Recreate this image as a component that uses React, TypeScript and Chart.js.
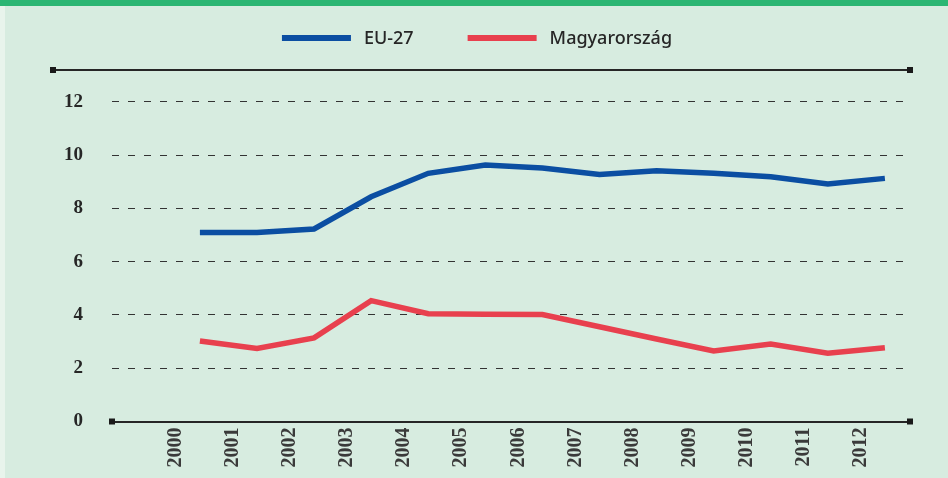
import React, { useEffect, useRef } from 'react';
import { Chart, registerables } from 'chart.js';

Chart.register(...registerables);

// ---- data ----
const years = [2000, 2001, 2002, 2003, 2004, 2005, 2006, 2007, 2008, 2009, 2010, 2011, 2012];
const seriesNames = ['EU-27', 'Magyarország'];
const euValues = [7.1, 7.1, 7.23, 8.44, 9.32, 9.63, 9.52, 9.28, 9.42, 9.32, 9.19, 8.92, 9.13];
const huValues = [3.02, 2.74, 3.14, 4.54, 4.05, 4.03, 4.02, 3.56, 3.1, 2.65, 2.91, 2.56, 2.77];
const yTickValues = [0, 2, 4, 6, 8, 10, 12];

// ---- styles ----
const BLUE = '#0b4ea2';
const RED = '#e8404e';
const PANEL = '#d7ece0';
const STRIP = '#e8f4ec';
const TOPBAR = '#2bb673';
const INK = '#262626';

const decorPlugin = {
  id: 'decor',
  beforeDraw(chart: any) {
    const { ctx, width, height } = chart;
    ctx.save();
    ctx.fillStyle = STRIP;
    ctx.fillRect(0, 0, width, height);
    ctx.fillStyle = PANEL;
    ctx.fillRect(5, 6, width - 5, height - 6);
    ctx.fillStyle = TOPBAR;
    ctx.fillRect(0, 0, width, 6);
    ctx.restore();
  },
  afterDraw(chart: any) {
    const { ctx, chartArea } = chart;
    const { left, right, top, bottom } = chartArea;
    ctx.save();
    // top frame line
    ctx.strokeStyle = INK;
    ctx.lineWidth = 2;
    ctx.beginPath();
    ctx.moveTo(left - 59, top);
    ctx.lineTo(right, top);
    ctx.stroke();
    // end squares
    ctx.fillStyle = '#1a1a1a';
    const sq = (x: number, y: number) => ctx.fillRect(x - 3, y - 3, 6, 6);
    sq(left - 59, top);
    sq(right, top);
    sq(left, bottom);
    sq(right, bottom);

    // legend
    const ds = chart.data.datasets;
    ctx.font = '500 18px "Noto Sans", "DejaVu Sans", sans-serif';
    ctx.textBaseline = 'middle';
    const sampleW = 69;
    const textGap = 13;
    const itemGap = 54;
    const widths = ds.map((d: any) => ctx.measureText(d.label).width);
    let total = 0;
    widths.forEach((w: number, i: number) => {
      total += sampleW + textGap + w + (i < widths.length - 1 ? itemGap : 0);
    });
    let x = 477 - total / 2;
    const ly = 38;
    ds.forEach((d: any, i: number) => {
      ctx.fillStyle = d.borderColor;
      ctx.fillRect(x, ly - 3, sampleW, 6);
      x += sampleW + textGap;
      ctx.fillStyle = INK;
      ctx.fillText(d.label, x, ly + 1);
      x += widths[i] + itemGap;
    });
    ctx.restore();
  },
};

export default function App() {
  const ref = useRef<HTMLCanvasElement | null>(null);

  useEffect(() => {
    if (!ref.current) return;
    const chart = new Chart(ref.current, {
      type: 'line',
      data: {
        datasets: [
          {
            label: seriesNames[0],
            data: years.map((y, i) => ({ x: y, y: euValues[i] })),
            borderColor: BLUE,
            backgroundColor: BLUE,
            borderWidth: 5.5,
            pointRadius: 0,
            tension: 0,
            fill: false,
          },
          {
            label: seriesNames[1],
            data: years.map((y, i) => ({ x: y, y: huValues[i] })),
            borderColor: RED,
            backgroundColor: RED,
            borderWidth: 5.5,
            pointRadius: 0,
            tension: 0,
            fill: false,
          },
        ],
      },
      options: {
        responsive: false,
        animation: false,
        layout: { padding: { top: 70, right: 38, bottom: 0, left: 0 } },
        plugins: {
          legend: { display: false },
          tooltip: { enabled: false },
        },
        scales: {
          x: {
            type: 'linear',
            min: 1998.46,
            max: 2012.44,
            afterBuildTicks: (scale: any) => {
              scale.ticks = years.map((v) => ({ value: v }));
            },
            afterFit: (scale: any) => {
              scale.height = 56.5;
            },
            grid: { display: false, drawTicks: false },
            border: { display: true, color: INK, width: 2 },
            ticks: {
              autoSkip: false,
              maxRotation: 90,
              minRotation: 90,
              labelOffset: -24,
              padding: 6,
              color: '#3a3a3a',
              font: { family: '"Liberation Serif", serif', size: 20, weight: 'bold' },
              callback: (v: any) => String(v),
            },
          },
          y: {
            type: 'linear',
            min: 0,
            max: 13.2,
            afterBuildTicks: (scale: any) => {
              scale.ticks = yTickValues.map((v) => ({ value: v }));
            },
            afterFit: (scale: any) => {
              scale.width = 112;
            },
            grid: { display: true, drawTicks: false, color: '#333333', lineWidth: 1 },
            border: { display: false, dash: [7, 9] },
            ticks: {
              padding: 29,
              color: INK,
              font: { family: '"Liberation Serif", serif', size: 19, weight: 'bold' },
              callback: (v: any) => String(v),
            },
          },
        },
      },
      plugins: [decorPlugin],
    } as any);
    return () => chart.destroy();
  }, []);

  return (
    <div style={{ position: 'absolute', left: 0, top: 0, width: 948, height: 478 }}>
      <canvas ref={ref} width={948} height={478} style={{ display: 'block' }} />
    </div>
  );
}
